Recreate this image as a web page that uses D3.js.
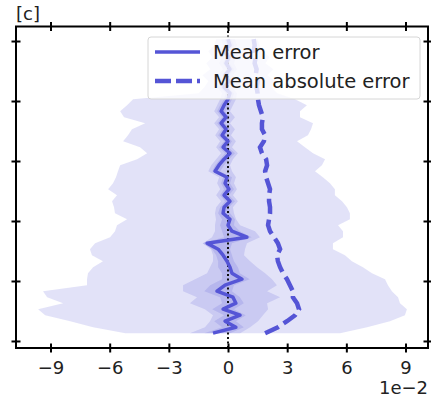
<!DOCTYPE html>
<html>
<head>
<meta charset="utf-8">
<script src="https://cdn.jsdelivr.net/npm/d3@7"></script>
<style>
  html, body { margin: 0; padding: 0; background: #ffffff; }
  svg text { font-family: "DejaVu Sans", sans-serif; fill: #222; }
</style>
</head>
<body>
<svg id="chart" width="431" height="397"></svg>
<script>
// Vertical levels (bottom to top)
const levels = [0.13, 0.23, 0.33, 0.43, 0.53, 0.63, 0.73, 0.83, 0.93, 1.03,
                1.13, 1.23, 1.33, 1.43, 1.53, 1.63, 1.73, 1.83, 1.93, 2.03,
                2.13, 2.23, 2.33, 2.43, 2.53, 2.63, 2.73, 2.83, 2.93, 3.03,
                3.13, 3.23, 3.33, 3.43, 3.53, 3.63, 3.73, 3.83, 3.93, 4.03,
                4.13, 4.23, 4.33, 4.43, 4.53, 4.63, 4.73, 4.83, 4.93, 5.03];

// Error values, in units of 1e-2
const meanError = [-0.76, 0.4, -0.15, 0.61, -0.25, 0.4, 0.25, -0.56, -0.15, 0.71,
                   0.2, 0.1, -0.05, -0.25, -0.5, -1.06, 0.96, 0.2, 0, 0.1,
                   -0.25, -0.2, 0.1, -0.2, 0.05, -0.15, -0.05, -0.66, -0.46, -0.2,
                   0.1, -0.25, 0, -0.3, -0.1, -0.35, -0.1, -0.35, -0.2, 0,
                   0.1, -0.2, 0.05, -0.15, 0.1, -0.1, 0.05, -0.2, 0.1, 0.0];

const meanAbsError = [1.88, 2.53, 2.99, 3.4, 3.6, 3.5, 3.29, 3.29, 3.14, 2.99,
                      2.79, 2.64, 2.53, 2.48, 2.64, 2.53, 2.33, 2.13, 2.03, 2.08,
                      2.13, 2.13, 2.08, 2.08, 2.13, 2.03, 1.93, 1.88, 1.98, 1.93,
                      1.72, 1.62, 1.82, 1.88, 1.72, 1.72, 1.77, 1.67, 1.57, 1.52,
                      1.5, 1.45, 1.5, 1.4, 1.45, 1.35, 1.4, 1.3, 1.35, 1.3];

// Full range of errors
const outerLo = [-5.2, -6.84, -8.0, -9.27, -9.63, -8.36, -9.17, -9.38, -7.15, -7.15,
                 -7.1, -6.84, -6.34, -6.9, -7.0, -6.74, -5.98, -5.73, -5.63, -5.12,
                 -5.73, -5.78, -5.88, -5.63, -6.08, -5.83, -5.68, -5.58, -5.47, -4.61,
                 -4.1, -4.46, -5.32, -5.07, -4.87, -4.2, -5.27, -5.47, -5.12, -4.81,
                 -1.5, -1.2, -1.0, -1.3, -0.9, -1.1, -0.8, -1.0, -0.7, -0.6];
const outerHi = [5.68, 7.05, 8.21, 8.97, 9.07, 8.72, 8.62, 8.31, 8.11, 7.96,
                 7.3, 6.84, 6.28, 5.93, 5.32, 5.32, 5.83, 5.83, 5.58, 6.18,
                 6.18, 6.03, 5.78, 5.42, 5.42, 5.17, 4.81, 4.41, 4.76, 4.92,
                 4.31, 3.9, 3.5, 4.05, 4.21, 4.31, 3.65, 3.65, 4.0, 3.4,
                 2.5, 2.2, 2.4, 2.0, 2.3, 1.9, 2.1, 1.8, 1.6, 1.5];

// Middle spread
const midLo = [-1.93, -1.17, -0.91, -0.76, -1.17, -1.93, -1.57, -2.28, -2.28, -1.67,
               -1.06, -0.91, -0.76, -0.76, -0.86, -1.27, -0.81, -0.66, -0.66, -0.61,
               -0.66, -0.6, -0.35, -0.6, -0.4, -0.55, -0.45, -1.0, -0.85, -0.6,
               -0.35, -0.6, -0.4, -0.65, -0.45, -0.7, -0.45, -0.7, -0.55, -0.4,
               -0.3, -0.55, -0.3, -0.5, -0.25, -0.45, -0.3, -0.55, -0.25, -0.35];
const midHi = [0.61, 1.12, 1.52, 1.77, 2.03, 1.98, 2.64, 1.98, 2.48, 2.23,
               1.88, 1.47, 1.12, 0.81, 0.86, 0.96, 1.62, 1.37, 0.61, 0.41,
               0.3, 0.25, 0.5, 0.25, 0.45, 0.3, 0.4, 0.2, 0.1, 0.25,
               0.5, 0.2, 0.4, 0.15, 0.35, 0.1, 0.35, 0.1, 0.25, 0.4,
               0.45, 0.2, 0.4, 0.25, 0.45, 0.3, 0.4, 0.2, 0.45, 0.35];

// Inner spread
const innerLo = [-1.2, -0.3, -0.7, -0.2, -0.8, -0.3, -0.4, -1.2, -0.9, -0.3,
                 -0.3, -0.5, -0.5, -0.6, -0.8, -1.3, -0.2, -0.3, -0.4, -0.3,
                 -0.5, -0.4, -0.15, -0.4, -0.2, -0.35, -0.25, -0.8, -0.65, -0.4,
                 -0.15, -0.45, -0.2, -0.5, -0.3, -0.55, -0.3, -0.55, -0.4, -0.2,
                 -0.1, -0.4, -0.1, -0.3, -0.05, -0.25, -0.1, -0.35, -0.05, -0.15];
const innerHi = [0.1, 0.8, 0.4, 0.9, 0.3, 0.8, 0.6, 0.2, 0.3, 1.1,
                 0.6, 0.5, 0.3, 0.2, 0.1, 0.2, 1.2, 0.6, 0.3, 0.35,
                 0.1, 0.05, 0.35, 0.05, 0.3, 0.1, 0.2, -0.4, -0.2, 0.05,
                 0.35, 0.0, 0.2, -0.1, 0.1, -0.15, 0.1, -0.15, 0.05, 0.2,
                 0.3, 0.0, 0.25, 0.05, 0.3, 0.05, 0.2, 0.0, 0.3, 0.15];

const xTicks = [-9, -6, -3, 0, 3, 6, 9];
const yTicks = [0, 1, 2, 3, 4, 5];
const panelLabel = "[c]";
const offsetLabel = "1e\u22122";
const seriesNames = ["Mean error", "Mean absolute error"];

const color = "#5555d6";

const svg = d3.select("#chart");
const pLeft = 16, pRight = 428, pTop = 26.5, pBottom = 348;

const x = d3.scaleLinear().domain([-10.75, 10.14]).range([pLeft, pRight]);
const y = d3.scaleLinear().domain([-0.117, 5.242]).range([pBottom, pTop]);

svg.append("defs").append("clipPath").attr("id", "plotclip")
  .append("rect").attr("x", pLeft).attr("y", pTop)
  .attr("width", pRight - pLeft).attr("height", pBottom - pTop);

const plot = svg.append("g").attr("clip-path", "url(#plotclip)");

function band(lo, hi) {
  return d3.area()
    .y((d, i) => y(levels[i]))
    .x0((d, i) => x(lo[i]))
    .x1((d, i) => x(hi[i]))(levels);
}

[[outerLo, outerHi], [midLo, midHi], [innerLo, innerHi]].forEach(([lo, hi]) => {
  plot.append("path")
    .attr("d", band(lo, hi))
    .attr("fill", color)
    .attr("fill-opacity", 0.17)
    .attr("stroke", "none");
});

// zero reference
plot.append("line")
  .attr("x1", x(0)).attr("x2", x(0))
  .attr("y1", pTop).attr("y2", pBottom)
  .attr("stroke", "#111")
  .attr("stroke-width", 2)
  .attr("stroke-dasharray", "2,2.5");

const line = vals => d3.line()
  .y((d, i) => y(levels[i]))
  .x((d, i) => x(vals[i]))(levels);

plot.append("path")
  .attr("d", line(meanError))
  .attr("fill", "none")
  .attr("stroke", color)
  .attr("stroke-width", 3.5)
  .attr("stroke-linejoin", "round");

plot.append("path")
  .attr("d", line(meanAbsError))
  .attr("fill", "none")
  .attr("stroke", color)
  .attr("stroke-width", 4.5)
  .attr("stroke-dasharray", "15,6");

// legend
const lg = svg.append("g");
lg.append("rect")
  .attr("x", 148).attr("y", 37).attr("width", 272).attr("height", 62)
  .attr("rx", 3)
  .attr("fill", "#ffffff").attr("fill-opacity", 0.8)
  .attr("stroke", "#d6d6d6").attr("stroke-width", 1);
seriesNames.forEach((name, i) => {
  const yy = 52 + i * 29;
  lg.append("line")
    .attr("x1", 155).attr("x2", 200).attr("y1", yy).attr("y2", yy)
    .attr("stroke", color)
    .attr("stroke-width", i === 0 ? 3.5 : 4.5)
    .attr("stroke-dasharray", i === 0 ? null : "16,5");
  lg.append("text")
    .attr("x", 213).attr("y", yy + 7)
    .attr("font-size", 19.5)
    .text(name);
});

// axes
const tickFmt = d => String(d).replace("-", "\u2212");
const axB = d3.axisBottom(x).tickValues(xTicks).tickFormat(tickFmt).tickSizeInner(4.5).tickSizeOuter(0).tickPadding(9);
const axT = d3.axisTop(x).tickValues(xTicks).tickFormat("").tickSizeInner(4.5).tickSizeOuter(0);
const axL = d3.axisLeft(y).tickValues(yTicks).tickFormat("").tickSizeInner(4.5).tickSizeOuter(0);
const axR = d3.axisRight(y).tickValues(yTicks).tickFormat("").tickSizeInner(4.5).tickSizeOuter(0);

function styleAxis(g, dir) {
  g.select(".domain").remove();
  g.selectAll(".tick line").attr("stroke", "#000").attr("stroke-width", 2);
  // ticks cross the spine: extend them to the inner side too
  g.selectAll(".tick line").each(function () {
    const s = d3.select(this);
    if (dir === "x") s.attr("y1", -(+s.attr("y2")));
    else s.attr("x1", -(+s.attr("x2")));
  });
}

svg.append("g").attr("transform", `translate(0,${pBottom})`).call(axB).call(g => {
  styleAxis(g, "x");
  g.selectAll(".tick text").attr("font-size", 18).attr("fill", "#222")
    .attr("font-family", "DejaVu Sans, sans-serif");
});
svg.append("g").attr("transform", `translate(0,${pTop})`).call(axT).call(g => styleAxis(g, "x"));
svg.append("g").attr("transform", `translate(${pLeft},0)`).call(axL).call(g => styleAxis(g, "y"));
svg.append("g").attr("transform", `translate(${pRight},0)`).call(axR).call(g => styleAxis(g, "y"));

svg.append("rect")
  .attr("x", pLeft).attr("y", pTop)
  .attr("width", pRight - pLeft).attr("height", pBottom - pTop)
  .attr("fill", "none").attr("stroke", "#000").attr("stroke-width", 2);

svg.append("text").attr("x", 16).attr("y", 20).attr("font-size", 18).text(panelLabel);
svg.append("text").attr("x", 428).attr("y", 394).attr("text-anchor", "end")
  .attr("font-size", 18).text(offsetLabel);
</script>
</body>
</html>
